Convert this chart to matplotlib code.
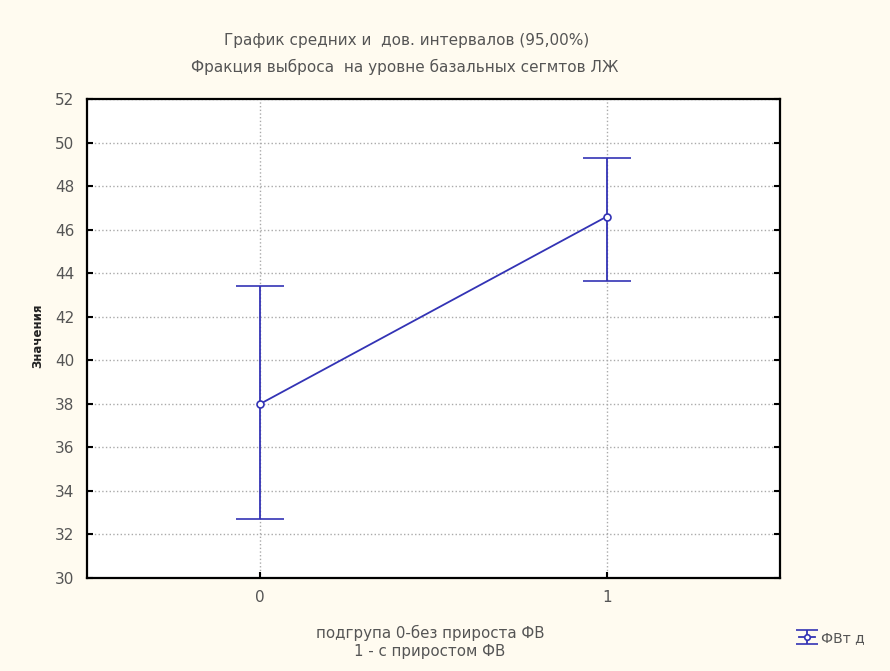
import numpy as np
import matplotlib.pyplot as plt

# данные: средние и 95% доверительные интервалы
groups = [0, 1]
means = [38.0, 46.6]
ci_low = [32.7, 43.65]
ci_high = [43.4, 49.3]

plt.rcParams['font.family'] = ['DejaVu Sans']
bg = '#fffbf0'
blue = '#3333b5'
txt = '#555555'

fig = plt.figure(figsize=(8.9, 6.71), dpi=100, facecolor=bg)
ax = fig.add_axes([0.0978, 0.1386, 0.7787, 0.7139])
ax.set_facecolor('white')

m = np.array(means)
yerr = [m - np.array(ci_low), np.array(ci_high) - m]
ax.errorbar(groups, means, yerr=yerr, color=blue, lw=1.3, capsize=17, capthick=1.5,
            marker='o', ms=5, mfc='white', mec=blue, mew=1.2)
# отдельный маркер для легенды (короче усы)
ax.errorbar([np.nan], [np.nan], yerr=[[1], [1]], color=blue, lw=1.3, capsize=8, capthick=1.5,
            marker='o', ms=4, mfc='white', mec=blue, mew=1.2, label='ФВт д')

ax.set_xlim(-0.5, 1.5)
ax.set_ylim(30, 52)
ax.set_xticks(groups)
ax.set_yticks(np.arange(30, 53, 2))
ax.grid(True, linestyle=':', color='#aaaaaa', lw=1)
ax.tick_params(direction='in', length=4, width=1.5, colors='black', labelcolor=txt,
               labelsize=11, right=True, pad=9)
for s in ax.spines.values():
    s.set_linewidth(1.6)

fig.text(0.457, 0.940, 'График средних и  дов. интервалов (95,00%)', ha='center', va='center',
         fontsize=11, color=txt)
fig.text(0.455, 0.901, 'Фракция выброса  на уровне базальных сегмтов ЛЖ', ha='center', va='center',
         fontsize=11, color=txt)
fig.text(0.042, 0.50, 'Значения', rotation=90, ha='center', va='center', fontsize=8.5,
         color='#222222', fontweight='bold')
fig.text(0.483, 0.057, 'подгрупа 0-без прироста ФВ', ha='center', va='center', fontsize=10.8, color=txt)
fig.text(0.483, 0.029, '1 - с приростом ФВ', ha='center', va='center', fontsize=10.8, color=txt)

leg = fig.legend(loc='center left', bbox_to_anchor=(0.884, 0.049), frameon=False, fontsize=10,
                 labelcolor=txt, handlelength=1.1, handletextpad=0.5)

plt.savefig('out.png', dpi=100, facecolor=bg)
